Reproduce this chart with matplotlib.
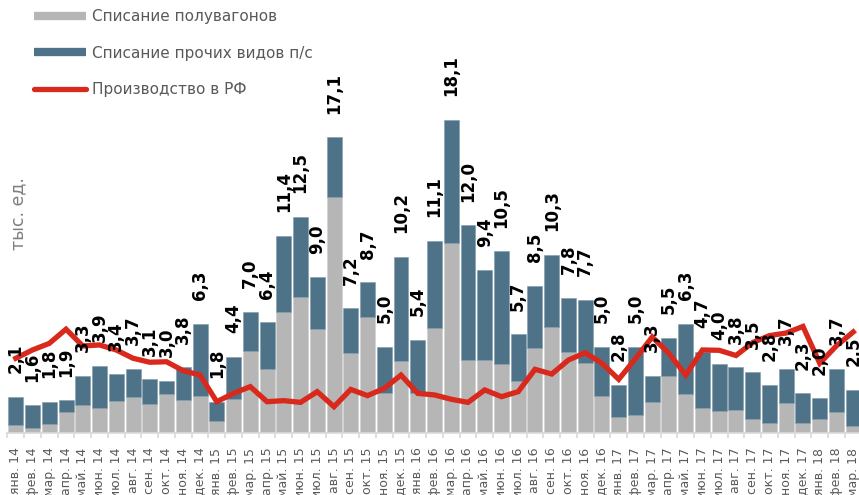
import numpy as np
import matplotlib
matplotlib.use("Agg")
import matplotlib.pyplot as plt
from matplotlib.lines import Line2D

# months Jan 2014 .. Mar 2018
months = ["янв.", "фев.", "мар.", "апр.", "май.", "июн.",
          "июл.", "авг.", "сен.", "окт.", "ноя.", "дек."]
labels = [f"{m} {y}" for y in (14, 15, 16, 17) for m in months] + \
         [f"{m} 18" for m in months[:3]]

# total write-off (bar labels), thousand units
total = [2.1, 1.6, 1.8, 1.9, 3.3, 3.9, 3.4, 3.7, 3.1, 3.0, 3.8, 6.3,
         1.8, 4.4, 7.0, 6.4, 11.4, 12.5, 9.0, 17.1, 7.2, 8.7, 5.0, 10.2,
         5.4, 11.1, 18.1, 12.0, 9.4, 10.5, 5.7, 8.5, 10.3, 7.8, 7.7, 5.0,
         2.8, 5.0, 3.3, 5.5, 6.3, 4.7, 4.0, 3.8, 3.5, 2.8, 3.7, 2.3,
         2.0, 3.7, 2.5]

# write-off of gondola cars (grey part)
gondola = [0.46, 0.27, 0.52, 1.2, 1.62, 1.46, 1.85, 2.1, 1.66, 2.25, 1.9, 2.14,
           0.69, 1.98, 4.74, 3.68, 7.0, 7.86, 6.03, 13.64, 4.64, 6.7, 2.33, 4.16,
           2.33, 6.07, 10.96, 4.22, 4.22, 3.99, 3.02, 4.91, 6.15, 4.68, 4.06, 2.16,
           0.92, 1.04, 1.81, 3.31, 2.25, 1.46, 1.25, 1.35, 0.83, 0.58, 1.72, 0.58,
           0.83, 1.2, 0.42]

# production in RF (line)
production = [4.32, 4.8, 5.18, 6.0, 5.03, 5.09, 4.8, 4.32, 4.09, 4.12, 3.6, 3.35,
              1.81, 2.29, 2.68, 1.81, 1.87, 1.77, 2.39, 1.52, 2.52, 2.16, 2.58, 3.35,
              2.29, 2.2, 1.95, 1.77, 2.49, 2.1, 2.39, 3.68, 3.41, 4.22, 4.64, 4.03,
              3.1, 4.3, 5.55, 4.6, 3.35, 4.8, 4.78, 4.48, 5.23, 5.63, 5.78, 6.16,
              4.03, 5.04, 5.84]

GREY = "#b6b6b6"
BLUE = "#4e7389"
RED = "#d9291c"
TXT = "#595959"

total = np.array(total)
gondola = np.array(gondola)
other = total - gondola
x = np.arange(len(total))

fig = plt.figure(figsize=(8.59, 4.95), dpi=100)
ax = fig.add_axes([7.4 / 859, 62 / 495, 854.2 / 859, 415.2 / 495])

ax.bar(x, gondola, width=0.895, color=GREY, edgecolor="#cfcfcf", linewidth=0.4, zorder=2)
ax.bar(x, other, bottom=gondola, width=0.895, color=BLUE, edgecolor="#7f9aab",
       linewidth=0.4, zorder=2)
ax.plot(x, production, color=RED, lw=3.8, zorder=3, solid_joinstyle="miter")

for xi, t in zip(x, total):
    ax.annotate(f"{t:.1f}".replace(".", ","), (xi, t), xytext=(0, 17),
                textcoords="offset points", rotation=90, ha="center", va="bottom",
                fontsize=12, fontweight="bold", color="black", zorder=5,
                annotation_clip=False)

ax.set_xlim(-0.5, len(x) - 0.5)
ax.set_ylim(0, 24)
for s in ("top", "right", "left"):
    ax.spines[s].set_visible(False)
ax.spines["bottom"].set_color("#d9d9d9")
ax.spines["bottom"].set_linewidth(1.2)
ax.set_yticks([])
ax.set_xticks(x)
ax.set_xticklabels(labels, rotation=90, fontsize=9, color=TXT,
                   va="top", ha="center")
ax.tick_params(axis="x", which="major", length=0, pad=10.5)
ax.set_xticks(np.r_[-0.5, x + 0.5], minor=True)
ax.tick_params(axis="x", which="minor", length=3.5, color="#d9d9d9", width=1.2)

fig.text(18.5 / 859, 1 - 214 / 495, "тыс. ед.", rotation=90, ha="center", va="center",
         fontsize=12.5, color="#7f7f7f")

handles = [Line2D([], [], color=GREY, lw=6, solid_capstyle="butt"),
           Line2D([], [], color=BLUE, lw=6, solid_capstyle="butt"),
           Line2D([], [], color=RED, lw=3.8, solid_capstyle="round")]
names = ["Списание полувагонов", "Списание прочих видов п/с", "Производство в РФ"]
fig.legend(handles, names, loc="upper left", bbox_to_anchor=(34 / 859, 1 - 9 / 495),
           frameon=False, fontsize=11, labelcolor=TXT, handlelength=3.4,
           handletextpad=0.4, labelspacing=1.42, borderpad=0, borderaxespad=0)

fig.savefig("out.png", dpi=100)
